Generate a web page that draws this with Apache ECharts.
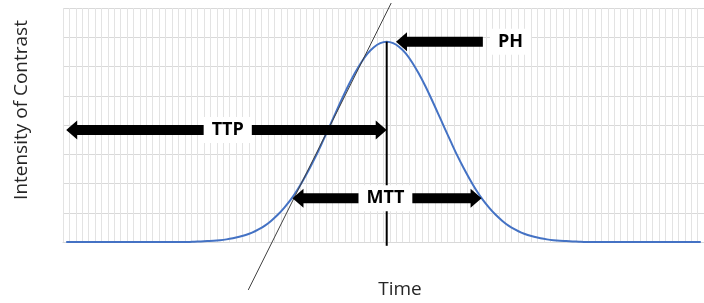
<!DOCTYPE html>
<html>
<head>
<meta charset="utf-8">
<title>Contrast bolus curve</title>
<script src="https://cdn.jsdelivr.net/npm/echarts@6/dist/echarts.min.js"></script>
<style>
  html, body { margin: 0; padding: 0; background: #fff; }
  #chart { width: 704px; height: 303px; }
</style>
</head>
<body>
<div id="chart"></div>
<script>
// intensity of contrast for each time step (peak at step 50)
var intensity = [
  0, 0, 0, 0, 0, 0, 0, 0, 0, 0,
  0, 0, 0, 0, 0, 0, 0, 0, 0, 0,
  0.01, 0.02, 0.03, 0.04, 0.06, 0.09, 0.13, 0.18, 0.24, 0.32,
  0.43, 0.56, 0.73, 0.93, 1.17, 1.44, 1.76, 2.13, 2.53, 2.96,
  3.43, 3.91, 4.40, 4.88, 5.34, 5.76, 6.13, 6.44, 6.66, 6.80,
  6.85,
  6.80, 6.66, 6.44, 6.13, 5.76, 5.34, 4.88, 4.40, 3.91, 3.43,
  2.96, 2.53, 2.13, 1.76, 1.44, 1.17, 0.93, 0.73, 0.56, 0.43,
  0.32, 0.24, 0.18, 0.13, 0.09, 0.06, 0.04, 0.03, 0.02, 0.01,
  0, 0, 0, 0, 0, 0, 0, 0, 0, 0,
  0, 0, 0, 0, 0, 0, 0, 0, 0
]
var timeSteps = intensity.map(function (v, i) { return i })

// annotations, in the same units (time step, intensity)
var ttpArrow = [[0, 3.83], [50, 3.83]]      // double headed
var mttArrow = [[35.3, 1.5], [64.8, 1.5]]   // double headed
var phArrow = [[65, 6.85], [51.45, 6.85]]   // tail -> tip
var peakLine = [[50, 6.85], [50, -0.13]]
var tangentLine = [[28.4, -1.64], [50.7, 8.17]]
var labels = [
  {text: 'TTP', at: [25.2, 3.83]},
  {text: 'MTT', at: [49.8, 1.5]},
  {text: 'PH', at: [69.3, 6.85]}
]

var chart = echarts.init(document.getElementById('chart'))

var option = {
  animation: false,
  grid: {
    left: 63,
    right: 0,
    top: 8,
    bottom: 61
  },
  xAxis: [
    {
      type: 'category',
      data: timeSteps,
      boundaryGap: true,
      axisLine: {lineStyle: {color: '#d9d9d9', width: 1}},
      axisTick: {show: false},
      axisLabel: {show: false},
      splitLine: {show: true, interval: 0, lineStyle: {color: '#e3e3e3', width: 1}}
    },
    {
      // hidden helper axis so annotations can sit between steps
      type: 'value',
      min: -0.5,
      max: 99.5,
      show: false
    }
  ],
  yAxis: {
    type: 'value',
    min: 0,
    max: 8,
    interval: 1,
    axisLine: {show: false},
    axisTick: {show: false},
    axisLabel: {show: false},
    splitLine: {show: true, lineStyle: {color: '#d9d9d9', width: 1}}
  },
  series: [
    {
      type: 'line',
      data: intensity,
      smooth: 0.3,
      symbol: 'none',
      lineStyle: {color: '#4472c4', width: 2},
      z: 3
    }
  ]
}
chart.setOption(option)

// data -> pixel through the chart's own axes
function px(p) {
  var x = chart.convertToPixel({xAxisIndex: 1}, p[0])
  var y = chart.convertToPixel({yAxisIndex: 0}, p[1])
  return [x, y]
}

var SHAFT = 5, HEAD = 9.5, HEAD_LEN = 11

function arrowPoints(from, to, bothEnds) {
  var a = px(from), b = px(to)
  var y = a[1]
  var dir = b[0] > a[0] ? 1 : -1
  var pts = []
  if (bothEnds) {
    pts.push([a[0], y])
    pts.push([a[0] + dir * HEAD_LEN, y - HEAD])
    pts.push([a[0] + dir * HEAD_LEN, y - SHAFT])
  } else {
    pts.push([a[0], y - SHAFT])
  }
  pts.push([b[0] - dir * HEAD_LEN, y - SHAFT])
  pts.push([b[0] - dir * HEAD_LEN, y - HEAD])
  pts.push([b[0], y])
  pts.push([b[0] - dir * HEAD_LEN, y + HEAD])
  pts.push([b[0] - dir * HEAD_LEN, y + SHAFT])
  if (bothEnds) {
    pts.push([a[0] + dir * HEAD_LEN, y + SHAFT])
    pts.push([a[0] + dir * HEAD_LEN, y + HEAD])
  } else {
    pts.push([a[0], y + SHAFT])
  }
  return pts
}

function lineEl(seg, color, width) {
  var a = px(seg[0]), b = px(seg[1])
  return {
    type: 'line',
    shape: {x1: a[0], y1: a[1], x2: b[0], y2: b[1]},
    style: {stroke: color, lineWidth: width},
    z: 10
  }
}

var graphics = []
graphics.push(lineEl(tangentLine, '#404040', 1))
graphics.push(lineEl(peakLine, '#000', 2))
graphics.push({type: 'polygon', shape: {points: arrowPoints(ttpArrow[0], ttpArrow[1], true)}, style: {fill: '#000'}, z: 11})
graphics.push({type: 'polygon', shape: {points: arrowPoints(mttArrow[0], mttArrow[1], true)}, style: {fill: '#000'}, z: 11})
graphics.push({type: 'polygon', shape: {points: arrowPoints(phArrow[0], phArrow[1], false)}, style: {fill: '#000'}, z: 11})

labels.forEach(function (l) {
  var p = px(l.at)
  graphics.push({
    type: 'text',
    x: p[0],
    y: p[1],
    style: {
      text: l.text,
      fill: '#000',
      font: 'bold 18px "Open Sans", sans-serif',
      align: 'center',
      verticalAlign: 'middle',
      backgroundColor: '#fff',
      padding: [5, 8, 3, 8]
    },
    z: 12
  })
})

// axis titles
graphics.push({
  type: 'text',
  x: 22,
  y: 110,
  rotation: Math.PI / 2,
  style: {
    text: 'Intensity of Contrast',
    fill: '#262626',
    font: '19px "Open Sans", sans-serif',
    align: 'center',
    verticalAlign: 'middle'
  }
})
graphics.push({
  type: 'text',
  x: 400,
  y: 290,
  style: {
    text: 'Time',
    fill: '#262626',
    font: '19px "Open Sans", sans-serif',
    align: 'center',
    verticalAlign: 'middle'
  }
})

chart.setOption({graphic: graphics})
</script>
</body>
</html>
